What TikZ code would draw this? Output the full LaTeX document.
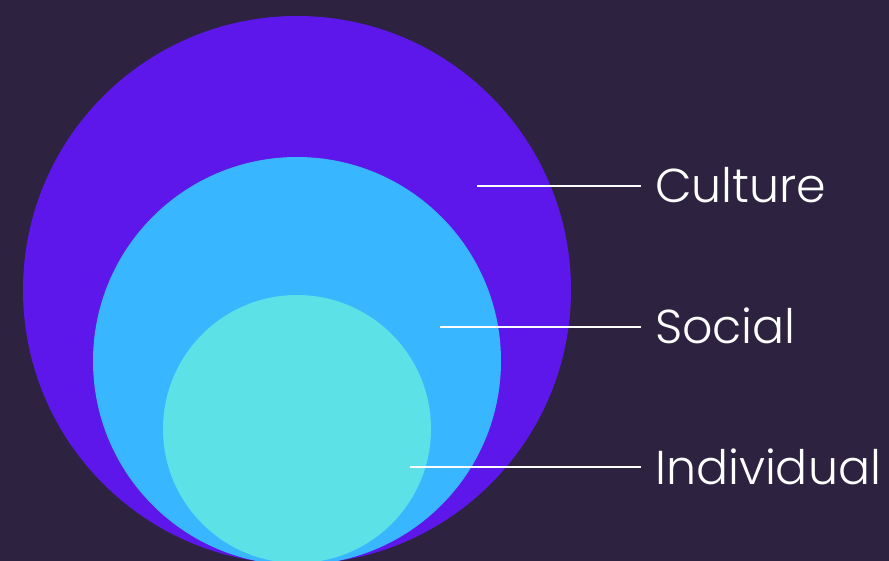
\documentclass[tikz,border=0pt]{standalone}
\usepackage{fontspec}
\setmainfont{Poppins}[UprightFont={* Light}]
\definecolor{bg}{HTML}{2D2341}
\definecolor{c1}{HTML}{5E17EB}
\definecolor{c2}{HTML}{38B6FF}
\definecolor{c3}{HTML}{5CE1E6}
\begin{document}
\begin{tikzpicture}[x=1pt,y=-1pt,
  lbl/.style={anchor=base west,text=white,font=\fontsize{47.5}{52}\selectfont,inner sep=0pt},
  ln/.style={draw=white,line width=1.6pt}]
\fill[bg] (0,0) rectangle (889,561);
\useasboundingbox (0,0) rectangle (889,561);
\begin{scope}
\clip (0,0) rectangle (889,561);
\fill[c1] (297,290) circle[radius=274];
\fill[c2] (297,361) circle[radius=204];
\fill[c3] (297,429) circle[radius=134];
\end{scope}
\coordinate (a1) at (477,186);
\coordinate (a2) at (440,327);
\coordinate (a3) at (410,467);
\node[lbl] (t1) at (655,203) {Culture};
\node[lbl] (t2) at (655,344) {Social};
\node[lbl] (t3) at (655,484) {Individual};
\draw[ln] (a1) -- (641,186) coordinate (b1);
\draw[ln] (a2) -- (641,327) coordinate (b2);
\draw[ln] (a3) -- (641,467) coordinate (b3);
\end{tikzpicture}
\end{document}
